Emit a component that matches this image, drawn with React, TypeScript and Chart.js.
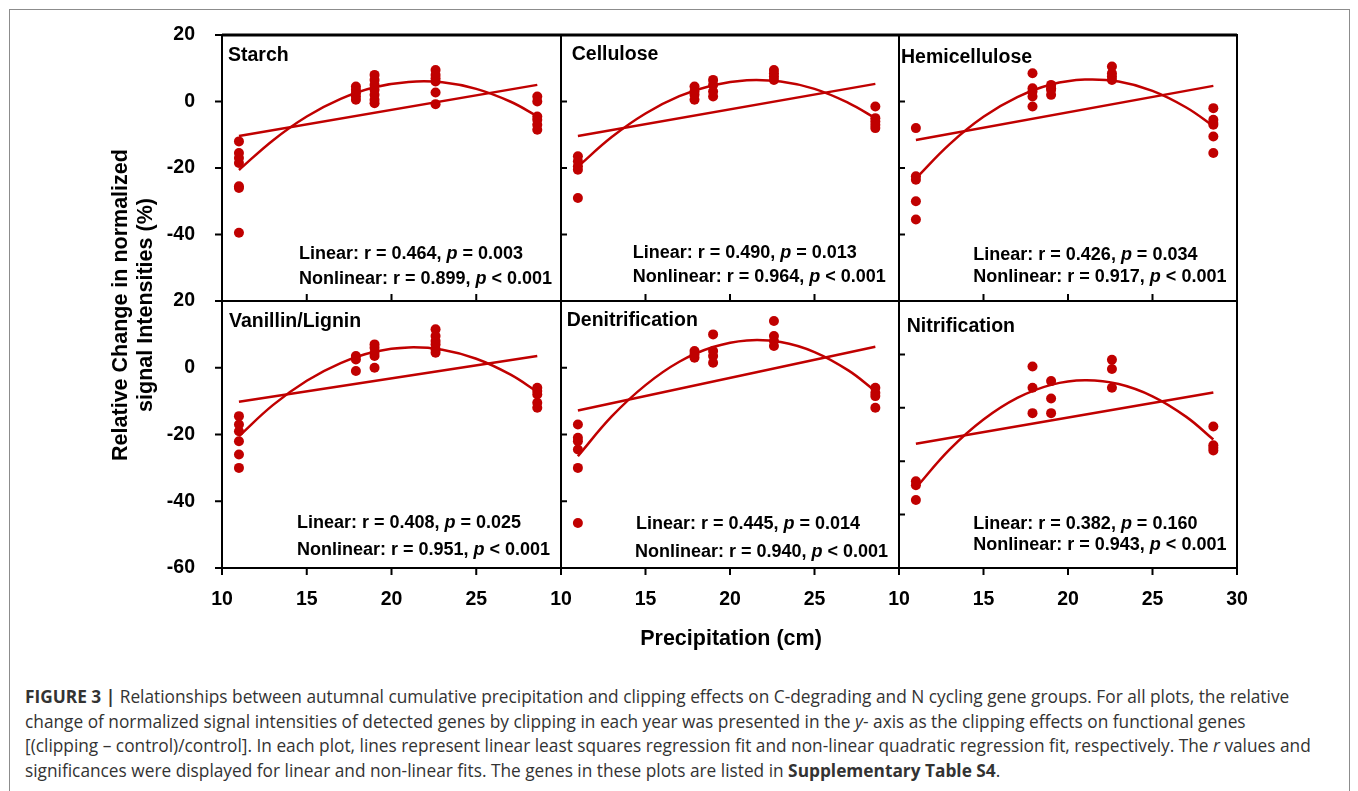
import React, { useEffect, useRef } from 'react';
import { Chart, registerables } from 'chart.js';
Chart.register(...registerables);

const RED = '#C00000';
const FONT = "'Liberation Sans', Arial, Helvetica, sans-serif";
const CAPTION_FONT = "'Open Sans', 'Noto Sans', 'Liberation Sans', sans-serif";

// ---------- data ----------
const precipitation = [11.0, 17.9, 19.0, 22.6, 28.6];
const fitX = [11, 13, 15, 17, 19, 21, 23, 25, 27, 28.6];
const linearX = [11, 28.6];

const panelTitles = ['Starch', 'Cellulose', 'Hemicellulose', 'Vanillin/Lignin', 'Denitrification', 'Nitrification'];

// values grouped by precipitation column
const starchValues = [
  [-12, -15.5, -17, -18.5, -25.5, -26, -39.5],
  [4.5, 3.5, 2.5, 1.5, 0.5],
  [8, 6.5, 5, 3.5, 2, 0.5, -0.5],
  [9.5, 8, 7, 6, 2.7, -0.8],
  [1.5, 0, -4.5, -5.5, -7, -8.5],
];
const celluloseValues = [
  [-16.5, -18, -19.5, -20.5, -29],
  [4.5, 3, 2, 0.5],
  [6.5, 5, 3, 1.5],
  [9.5, 8.5, 7.5, 6.5],
  [-1.5, -5, -6, -7, -8],
];
const hemicelluloseValues = [
  [-8, -22.5, -23.5, -30, -35.5],
  [8.5, 4, 3, 1.5, -1.5],
  [5, 4, 3.5, 2],
  [10.5, 8.5, 7.5, 6.5],
  [-2, -5.5, -6.5, -7, -10.5, -15.5],
];
const vanillinValues = [
  [-14.5, -17, -19, -22, -26, -30],
  [3.5, 2.5, -1],
  [7, 6, 4.5, 3.5, 0],
  [11.5, 9.5, 8, 7, 5.5, 4.5],
  [-6, -7, -8, -10.5, -12],
];
const denitrificationValues = [
  [-17, -21, -22, -24.5, -30, -46.5],
  [5, 4, 3],
  [10, 5, 3.5, 1.5],
  [14, 9.5, 8, 6.5],
  [-6, -7.5, -8.5, -12],
];
const nitrificationValues = [
  [-47.5, -49, -54.5],
  [-4.5, -12.5, -22],
  [-10, -16.5, -22],
  [-2, -5.5, -12.5],
  [-27, -34, -35, -36],
];

// linear fits (at linearX)
const starchLinear = [-10.4, 5.0];
const celluloseLinear = [-10.4, 5.3];
const hemicelluloseLinear = [-11.6, 4.7];
const vanillinLinear = [-10.2, 3.5];
const denitrificationLinear = [-12.8, 6.3];
const nitrificationLinear = [-33.5, -14.3];

// quadratic fits (at fitX)
const starchQuadratic = [-20.6, -11.7, -4.5, 0.8, 4.3, 5.9, 5.8, 3.8, 0.0, -4.4];
const celluloseQuadratic = [-19.6, -10.7, -3.6, 1.6, 4.9, 6.4, 6.0, 3.8, -0.4, -5.0];
const hemicelluloseQuadratic = [-23.1, -12.8, -4.6, 1.3, 5.1, 6.6, 6.0, 3.2, -1.8, -7.4];
const vanillinQuadratic = [-20.5, -11.2, -3.9, 1.4, 4.8, 6.1, 5.4, 2.7, -2.0, -7.2];
const denitrificationQuadratic = [-26.5, -14.6, -5.2, 1.8, 6.2, 8.2, 7.7, 4.7, -0.8, -7.0];
const nitrificationQuadratic = [-50, -35.6, -24.4, -16.3, -11.4, -9.7, -11.1, -15.7, -23.4, -31.9];

const linearR = ['0.464', '0.490', '0.426', '0.408', '0.445', '0.382'];
const linearP = ['= 0.003', '= 0.013', '= 0.034', '= 0.025', '= 0.014', '= 0.160'];
const nonlinearR = ['0.899', '0.964', '0.917', '0.951', '0.940', '0.943'];
const nonlinearP = ['< 0.001', '< 0.001', '< 0.001', '< 0.001', '< 0.001', '< 0.001'];

const yMins = [-60, -60, -60, -60, -60, -80];
const yMax = 20;
const xMin = 10;
const xMax = 30;

const allValues = [starchValues, celluloseValues, hemicelluloseValues, vanillinValues, denitrificationValues, nitrificationValues];
const allLinear = [starchLinear, celluloseLinear, hemicelluloseLinear, vanillinLinear, denitrificationLinear, nitrificationLinear];
const allQuadratic = [starchQuadratic, celluloseQuadratic, hemicelluloseQuadratic, vanillinQuadratic, denitrificationQuadratic, nitrificationQuadratic];

// ---------- layout ----------
const colLefts = [222, 561, 899];
const colWidths = [339, 338, 338];
const rowTops = [35, 301];
const rowHeights = [266, 267];
const ML = 70, MR = 45, MT = 45, MB = 60;

// text positions relative to the panel's plot area
const titlePos = [[6, 21], [10.7, 20], [2, 23], [7, 21], [5.7, 20], [7.7, 25.7]];
const statPos = [
  [77, 219, 77, 244],
  [71.7, 217.7, 71.7, 241.7],
  [74.3, 220, 74.3, 241.7],
  [75, 222.3, 75, 249],
  [75, 223.3, 74, 250.7],
  [74.3, 223.3, 74.3, 244],
];

function drawSegments(ctx: CanvasRenderingContext2D, x: number, y: number, segs: [string, boolean][], size: number) {
  let cx = x;
  for (const [t, it] of segs) {
    ctx.font = `${it ? 'italic ' : ''}bold ${size}px ${FONT}`;
    ctx.fillText(t, cx, y);
    cx += ctx.measureText(t).width;
  }
}

function Panel({ idx }: { idx: number }) {
  const ref = useRef<HTMLCanvasElement | null>(null);
  const col = idx % 3;
  const row = Math.floor(idx / 3);
  const w = colWidths[col];
  const h = rowHeights[row];
  const cw = w + ML + MR;
  const chh = h + MT + MB;

  useEffect(() => {
    const canvas = ref.current;
    if (!canvas) return;
    const points: { x: number; y: number }[] = [];
    allValues[idx].forEach((vals, i) => vals.forEach((v) => points.push({ x: precipitation[i], y: v })));
    const yMin = yMins[idx];

    const overlay = {
      id: 'overlay' + idx,
      afterDraw(chart: any) {
        const ctx: CanvasRenderingContext2D = chart.ctx;
        const { left, right, top, bottom } = chart.chartArea;
        const xs = chart.scales.x;
        const ys = chart.scales.y;
        ctx.save();
        ctx.strokeStyle = '#000';
        ctx.lineWidth = 2;
        ctx.strokeRect(left, top, right - left, bottom - top);
        if (row === 0) {
          ctx.lineWidth = 3;
          ctx.beginPath();
          ctx.moveTo(left, top);
          ctx.lineTo(right, top);
          ctx.stroke();
          ctx.lineWidth = 2;
        }
        ctx.beginPath();
        for (const t of xs.ticks) {
          const px = xs.getPixelForValue(t.value);
          if (row === 1) {
            ctx.moveTo(px, bottom);
            ctx.lineTo(px, bottom + 7);
          } else if (t.value > xMin && t.value < xMax) {
            ctx.moveTo(px, bottom);
            ctx.lineTo(px, bottom - 7);
          }
        }
        for (const t of ys.ticks) {
          const py = ys.getPixelForValue(t.value);
          if (col === 0) {
            ctx.moveTo(left - 7, py);
            ctx.lineTo(left, py);
          } else if (t.value > yMin && t.value < yMax) {
            ctx.moveTo(left, py);
            ctx.lineTo(left + 6, py);
          }
        }
        ctx.stroke();

        ctx.fillStyle = '#000';
        ctx.textBaseline = 'middle';
        ctx.textAlign = 'left';
        ctx.font = `bold 19.5px ${FONT}`;
        ctx.fillText(panelTitles[idx], left + titlePos[idx][0], top + titlePos[idx][1]);
        const sp = statPos[idx];
        drawSegments(ctx, left + sp[0], top + sp[1], [
          [`Linear: r = ${linearR[idx]}, `, false],
          ['p', true],
          [` ${linearP[idx]}`, false],
        ], 18);
        drawSegments(ctx, left + sp[2], top + sp[3], [
          [`Nonlinear: r = ${nonlinearR[idx]}, `, false],
          ['p', true],
          [` ${nonlinearP[idx]}`, false],
        ], 18);
        ctx.restore();
      },
    };

    const chart = new Chart(canvas, {
      type: 'scatter',
      data: {
        datasets: [
          {
            data: linearX.map((x, i) => ({ x, y: allLinear[idx][i] })),
            showLine: true,
            borderColor: RED,
            borderWidth: 2.5,
            pointRadius: 0,
          },
          {
            data: fitX.map((x, i) => ({ x, y: allQuadratic[idx][i] })),
            showLine: true,
            borderColor: RED,
            borderWidth: 2.5,
            pointRadius: 0,
            tension: 0.4,
          },
          {
            data: points,
            backgroundColor: RED,
            borderColor: RED,
            borderWidth: 0,
            pointRadius: 5,
          },
        ],
      } as any,
      options: {
        animation: false,
        responsive: false,
        devicePixelRatio: 1,
        events: [],
        layout: { padding: { left: 0, right: MR, top: MT, bottom: 0 }, autoPadding: false } as any,
        plugins: { legend: { display: false }, tooltip: { enabled: false } },
        scales: {
          x: {
            type: 'linear',
            min: xMin,
            max: xMax,
            grid: { display: false },
            border: { display: false },
            ticks: {
              stepSize: 5,
              display: row === 1,
              autoSkip: false,
              maxRotation: 0,
              padding: 12,
              color: '#000',
              font: { family: FONT, size: 19.5, weight: 'bold' },
              callback: (v: any) => (col < 2 && v === xMax ? '' : String(v)),
            },
            afterFit: (s: any) => { s.height = MB; },
          },
          y: {
            type: 'linear',
            min: yMin,
            max: yMax,
            grid: { display: false },
            border: { display: false },
            ticks: {
              stepSize: 20,
              display: col === 0,
              padding: 19,
              color: '#000',
              font: { family: FONT, size: 19.5, weight: 'bold' },
              callback: (v: any) => (row === 0 && v === yMin ? '' : String(v)),
            },
            afterFit: (s: any) => { s.width = ML; },
          },
        },
      } as any,
      plugins: [overlay],
    });
    return () => chart.destroy();
  }, [idx]);

  return (
    <canvas
      ref={ref}
      width={cw}
      height={chh}
      style={{ position: 'absolute', left: colLefts[col] - ML, top: rowTops[row] - MT, width: cw, height: chh }}
    />
  );
}

export default function App() {
  const boldFont = { fontFamily: FONT, fontWeight: 'bold' as const, color: '#000' };
  return (
    <div style={{ position: 'absolute', left: 0, top: 0, width: 1358, height: 791, background: '#fff', overflow: 'hidden' }}>
      <div style={{ position: 'absolute', left: 9, top: 9, width: 1341, height: 900, border: '1px solid #8c8c8c', boxSizing: 'border-box' }} />
      {[0, 1, 2, 3, 4, 5].map((i) => <Panel key={i} idx={i} />)}
      <div
        style={{
          ...boldFont,
          position: 'absolute',
          left: 132.5 - 220,
          top: 304.5 - 25,
          width: 440,
          height: 50,
          lineHeight: '25px',
          fontSize: 21.5,
          textAlign: 'center',
          transform: 'rotate(-90deg)',
          whiteSpace: 'nowrap',
        }}
      >
        <div>Relative Change in normalized</div>
        <div>signal Intensities (%)</div>
      </div>
      <div
        style={{
          ...boldFont,
          position: 'absolute',
          left: 531,
          top: 638 - 13,
          width: 400,
          lineHeight: '26px',
          fontSize: 21.5,
          textAlign: 'center',
        }}
      >
        Precipitation (cm)
      </div>
      <div
        style={{
          position: 'absolute',
          left: 25,
          top: 685,
          fontFamily: CAPTION_FONT,
          fontSize: 17.3,
          lineHeight: '24.7px',
          color: '#333',
          whiteSpace: 'nowrap',
        }}
      >
        <div>
          <b>FIGURE 3 |</b> Relationships between autumnal cumulative precipitation and clipping effects on C-degrading and N cycling gene groups. For all plots, the relative
        </div>
        <div>
          change of normalized signal intensities of detected genes by clipping in each year was presented in the <i>y</i>- axis as the clipping effects on functional genes
        </div>
        <div>
          [(clipping – control)/control]. In each plot, lines represent linear least squares regression fit and non-linear quadratic regression fit, respectively. The <i>r</i> values and
        </div>
        <div>
          significances were displayed for linear and non-linear fits. The genes in these plots are listed in <b>Supplementary Table S4</b>.
        </div>
      </div>
    </div>
  );
}
